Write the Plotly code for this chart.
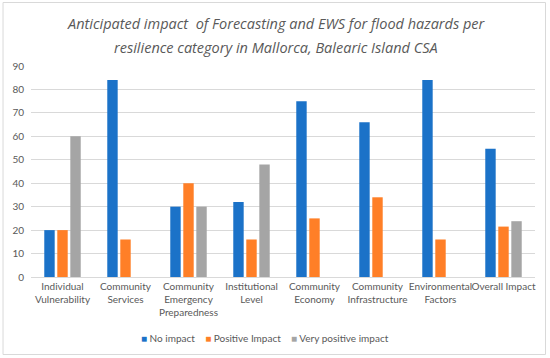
import plotly.graph_objects as go

categories = ["Individual<br>Vulnerability", "Community<br>Services", "Community<br>Emergency<br>Preparedness",
              "Institutional<br>Level", "Community<br>Economy", "Community<br>Infrastructure",
              "Environmental<br>Factors", "Overall Impact"]
no_impact = [20, 84, 30, 32, 75, 66, 84, 54.7]
positive_impact = [20, 16, 40, 16, 25, 34, 16, 21.5]
very_positive_impact = [60, 0, 30, 48, 0, 0, 0, 23.8]
y_ticks = [0, 10, 20, 30, 40, 50, 60, 70, 80, 90]
title_lines = ["Anticipated impact  of Forecasting and EWS for flood hazards per",
               "resilience category in Mallorca, Balearic Island CSA"]

series = [("No impact", no_impact, "#1B72C8"),
          ("Positive Impact", positive_impact, "#FF7F27"),
          ("Very positive impact", very_positive_impact, "#A5A5A5")]

fig = go.Figure()
for name, vals, col in series:
    fig.add_trace(go.Bar(x=categories, y=vals, name=name, showlegend=False,
                         marker=dict(color=col, line=dict(width=0))))

L, R, T, B = 30.5, 15, 66, 81
W, H = 550, 358
pw = W - L - R
ph = H - T - B
FONT = "Lato"

def py(px):  # pixel y from top -> paper y
    return (H - B - px) / ph

legend_text = "&nbsp;&nbsp;&nbsp;&nbsp;".join(
    f"<span style='color:{col}'>■</span> {name}" for name, _, col in series)

annotations = [dict(text=legend_text, xref="paper", yref="paper", x=(265 - L) / pw, y=py(338),
                    xanchor="center", yanchor="middle", showarrow=False,
                    font=dict(size=10, color="#595959", family=FONT))]
for i, line in enumerate(title_lines):
    annotations.append(dict(text=line, xref="paper", yref="paper", x=(276 - L) / pw, y=py(24 + 23 * i),
                            xanchor="center", yanchor="middle", showarrow=False,
                            font=dict(size=14.5, color="#595959", family="Open Sans", style="italic")))

fig.update_layout(
    width=W, height=H,
    margin=dict(l=L, r=R, t=T, b=B, autoexpand=False),
    paper_bgcolor="white", plot_bgcolor="white",
    barmode="group", bargap=0.38, bargroupgap=0.2,
    font=dict(family=FONT, size=10, color="#595959"),
    showlegend=False,
    annotations=annotations,
    xaxis=dict(showgrid=False, showline=True, linecolor="#D9D9D9", ticks="", tickangle=0, automargin=False,
               tickfont=dict(size=10, color="#595959")),
    yaxis=dict(range=[0, 90], tickvals=y_ticks, showgrid=True, gridcolor="#D9D9D9", zeroline=False,
               showline=False, ticks="", automargin=False, ticklabelstandoff=6,
               tickfont=dict(size=10, color="#595959")),
    shapes=[dict(type="rect", xref="paper", yref="paper",
                 x0=(2.5 - L) / pw, x1=(W - 4.5 - L) / pw, y0=py(H - 3.5), y1=py(2.5),
                 line=dict(color="#D9D9D9", width=1), fillcolor="rgba(0,0,0,0)")],
)

fig.write_html("out.html", config={"displayModeBar": False},
               post_script="document.body.style.margin='0';document.body.style.padding='0';")
